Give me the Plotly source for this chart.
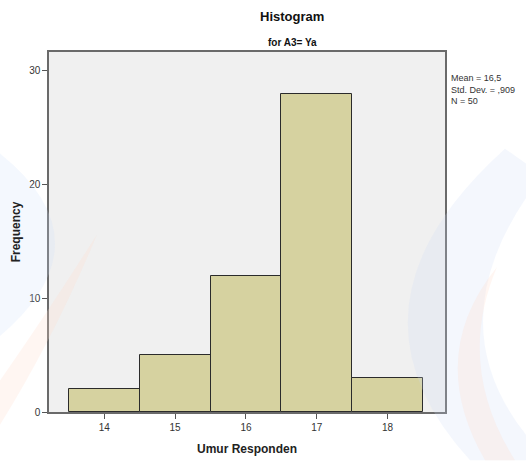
import plotly.graph_objects as go

ages = [14, 15, 16, 17, 18]
freq = [2, 5, 12, 28, 3]
y_ticks = [0, 10, 20, 30]
stats_lines = ["Mean = 16,5", "Std. Dev. = ,909", "N = 50"]

FONT = "Liberation Sans, Arial, sans-serif"
W, H = 526, 466
L, R, T, B = 49, 81, 52, 49
PW, PH = W - L - R, H - T - B

fig = go.Figure()
fig.add_trace(go.Bar(
    x=ages, y=freq, width=1,
    marker=dict(color="#d6d2a0", line=dict(color="#2b2b2b", width=1)),
    hoverinfo="skip",
))

fig.update_layout(
    width=W, height=H,
    margin=dict(l=L, r=R, t=T, b=B),
    paper_bgcolor="white",
    plot_bgcolor="#f0f0f0",
    showlegend=False,
    font=dict(family=FONT, size=10, color="#333333"),
    bargap=0,
    xaxis=dict(
        range=[13.22, 18.81], tickvals=ages, ticks="outside", ticklen=5,
        tickcolor="#555555", showgrid=False, zeroline=False,
        showline=True, linecolor="#6a6a6a", linewidth=1.5, mirror=True,
        tickfont=dict(size=10, color="#333333"),
        title=dict(text="<b>Umur Responden</b>", font=dict(size=12, color="#222222"), standoff=13),
    ),
    yaxis=dict(
        range=[0, 31.65], tickvals=y_ticks, ticks="outside", ticklen=5,
        tickcolor="#555555", showgrid=False, zeroline=False,
        showline=True, linecolor="#6a6a6a", linewidth=1.5, mirror=True,
        tickfont=dict(size=10, color="#333333"),
        title=dict(text="<b>Frequency</b>", font=dict(size=12, color="#222222"), standoff=6),
    ),
)


def px_path(cmds):
    """Build an SVG path in paper coords from pixel coords (decorative watermark)."""
    out = []
    for c in cmds:
        if isinstance(c, str):
            out.append(c)
        else:
            x, y = c
            out.append(f"{(x - L) / PW:.4f},{(H - B - y) / PH:.4f}")
    return " ".join(out)


watermark = [
    (["M", (505, 150), "Q", (330, 310), (470, 466), "L", (526, 466), "L", (526, 440),
      "Q", (440, 330), (526, 200), "L", (526, 165), "Z"],
     "rgba(205,220,245,0.22)"),
    (["M", (497, 270), "Q", (425, 360), (485, 466), "L", (515, 466), "Q", (455, 370), (497, 270), "Z"],
     "rgba(255,220,205,0.25)"),
    (["M", (0, 155), "Q", (110, 245), (0, 340), "Z"],
     "rgba(205,222,250,0.22)"),
    (["M", (97, 237), "Q", (55, 340), (0, 430), "L", (0, 385), "Q", (45, 320), (97, 237), "Z"],
     "rgba(255,220,205,0.25)"),
]
for path, col in watermark:
    fig.add_shape(type="path", xref="paper", yref="paper", path=px_path(path),
                  fillcolor=col, line=dict(width=0), layer="above")

fig.add_annotation(text="<b>Histogram</b>", xref="paper", yref="paper",
                   x=(292 - L) / PW, y=1, yshift=36, showarrow=False,
                   xanchor="center", yanchor="middle",
                   font=dict(size=13, color="#111111", family=FONT))
fig.add_annotation(text="<b>for A3= Ya</b>", xref="paper", yref="paper",
                   x=(292 - L) / PW, y=1, yshift=10, showarrow=False,
                   xanchor="center", yanchor="middle",
                   font=dict(size=10, color="#111111", family=FONT))
fig.add_annotation(text="<br>".join(stats_lines), xref="paper", yref="paper",
                   x=1, xshift=4, y=1, yshift=-19, showarrow=False,
                   xanchor="left", yanchor="top", align="left",
                   font=dict(size=9, color="#333333", family=FONT))

fig.write_html("out.html")
